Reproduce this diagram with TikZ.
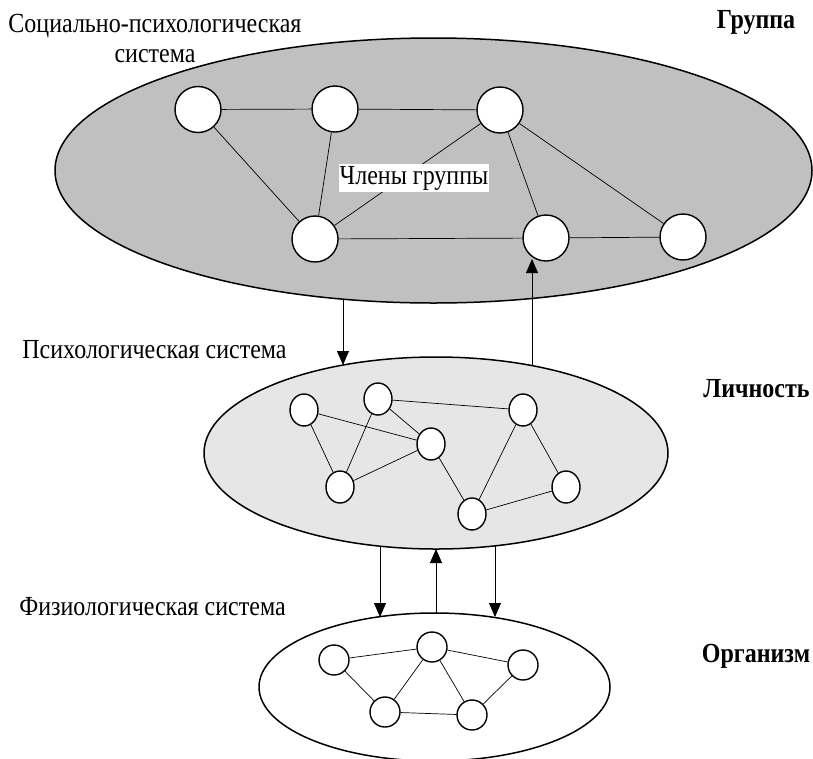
\documentclass[tikz,border=0pt]{standalone}
\usepackage{fontspec}
\setmainfont{Liberation Serif}
\usetikzlibrary{arrows.meta,shapes.geometric}
\definecolor{topfill}{gray}{0.753}
\definecolor{midfill}{gray}{0.902}
\begin{document}
\begin{tikzpicture}[x=1pt,y=-1pt,
  sys/.style={draw, line width=1.5pt, ellipse, inner sep=0pt},
  mem/.style={draw, fill=white, line width=1.4pt, circle, inner sep=0pt},
  memm/.style={draw, fill=white, line width=1.4pt, ellipse, inner sep=0pt, minimum width=28pt, minimum height=32pt},
  link/.style={line width=0.7pt},
  arr/.style={line width=0.8pt, -{Triangle[length=14pt,width=12pt]}},
  lbl/.style={inner sep=0pt, font=\fontsize{24}{26}\selectfont, yscale=1.15, transform shape},
  head/.style={inner sep=0pt, font=\fontsize{24}{26}\selectfont\bfseries, yscale=1.15, transform shape}]
\useasboundingbox (0,0) rectangle (813,758);
% systems
\node[sys, fill=topfill, minimum width=757pt, minimum height=265pt] (grp) at (433.5,170.5) {};
\node[sys, fill=midfill, minimum width=464pt, minimum height=192pt] (pers) at (436,453) {};
\node[sys, fill=white, minimum width=351pt, minimum height=148pt] (org) at (434.5,687) {};
% group members
\node[mem, minimum size=46pt] (n1) at (198,109.5) {};
\node[mem, minimum size=46pt] (n2) at (335,109) {};
\node[mem, minimum size=46pt] (n3) at (500,110) {};
\node[mem, minimum size=46pt] (n4) at (315,239) {};
\node[mem, minimum size=46pt] (n5) at (546,238) {};
\node[mem, minimum size=46pt] (n6) at (683,237) {};
\draw[link] (n1) -- (n2);
\draw[link] (n2) -- (n3);
\draw[link] (n1) -- (n4);
\draw[link] (n2) -- (n4);
\draw[link] (n3) -- (n4);
\draw[link] (n3) -- (n5);
\draw[link] (n3) -- (n6);
\draw[link] (n4) -- (n5);
\draw[link] (n5) -- (n6);
% personality
\node[memm] (m1) at (304,410) {};
\node[memm] (m2) at (378,399) {};
\node[memm] (m3) at (431,444) {};
\node[memm] (m4) at (340,487) {};
\node[memm] (m5) at (523,410) {};
\node[memm] (m6) at (566,487) {};
\node[memm] (m7) at (472,514) {};
\draw[link] (m1) -- (m3);
\draw[link] (m1) -- (m4);
\draw[link] (m2) -- (m4);
\draw[link] (m2) -- (m3);
\draw[link] (m2) -- (m5);
\draw[link] (m3) -- (m4);
\draw[link] (m3) -- (m7);
\draw[link] (m5) -- (m7);
\draw[link] (m5) -- (m6);
\draw[link] (m7) -- (m6);
% organism
\node[mem, minimum size=30pt] (b1) at (334,660) {};
\node[mem, minimum size=30pt] (b2) at (432,647) {};
\node[mem, minimum size=30pt] (b3) at (523,665) {};
\node[mem, minimum size=30pt] (b4) at (385,712) {};
\node[mem, minimum size=30pt] (b5) at (472,715) {};
\draw[link] (b1) -- (b2);
\draw[link] (b2) -- (b3);
\draw[link] (b1) -- (b4);
\draw[link] (b2) -- (b4);
\draw[link] (b2) -- (b5);
\draw[link] (b3) -- (b5);
\draw[link] (b4) -- (b5);
% arrows
\coordinate (a1s) at (343,299);
\coordinate (a1e) at (343,365);
\coordinate (a2s) at (532,365.5);
\coordinate (a2e) at (532,259);
\coordinate (b1s) at (380,546);
\coordinate (b1e) at (380,617);
\coordinate (b2s) at (436,613);
\coordinate (b2e) at (436,549);
\coordinate (b3s) at (495,546);
\coordinate (b3e) at (495,617);
\draw[arr] (a1s) -- (a1e);
\draw[arr] (a2s) -- (a2e);
\draw[arr] (b1s) -- (b1e);
\draw[arr] (b2s) -- (b2e);
\draw[arr] (b3s) -- (b3e);
% labels
\node[lbl, fill=white, inner xsep=1pt, inner ysep=2pt, anchor=base] (memlbl) at (414,184) {Члены группы};
\node[lbl, align=center, anchor=north] (l1) at (155,14) {Социально-психологическая\\система};
\node[lbl, anchor=base] (l2) at (154.5,358) {Психологическая система};
\node[lbl, anchor=base] (l3) at (152.5,615) {Физиологическая система};
\node[head, anchor=base] (h1) at (756,28) {Группа};
\node[head, anchor=base] (h2) at (756.5,397) {Личность};
\node[head, anchor=base] (h3) at (756,662) {Организм};
\end{tikzpicture}
\end{document}
